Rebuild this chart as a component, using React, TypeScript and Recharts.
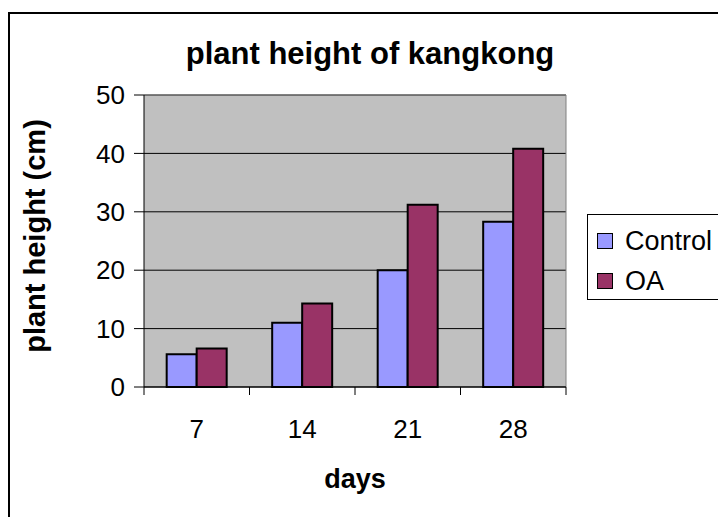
import React from 'react';
import {
  BarChart,
  Bar,
  XAxis,
  YAxis,
  CartesianGrid,
  Legend,
} from 'recharts';

const days = ['7', '14', '21', '28'];
const control = [5.6, 11.0, 20.0, 28.3];
const oa = [6.6, 14.3, 31.2, 40.8];
const yTicks = [0, 10, 20, 30, 40, 50];

const seriesNames = ['Control', 'OA'];
const seriesColors = ['#9999FF', '#993366'];

const FONT = '"Liberation Sans", Arial, sans-serif';
const PLOT_W = 422;

const data = days.map((d, i) => ({ day: d, control: control[i], oa: oa[i] }));

const DayTick = (props: any) => {
  const { x, y, payload, index } = props;
  const half = PLOT_W / days.length / 2;
  return (
    <g>
      <line x1={x - half} y1={y - 8} x2={x - half} y2={y} stroke="#000" />
      {index === days.length - 1 && (
        <line x1={x + half} y1={y - 8} x2={x + half} y2={y} stroke="#000" />
      )}
      <text
        x={x}
        y={y}
        dy={43}
        textAnchor="middle"
        fontSize={26}
        fontFamily={FONT}
        fill="#000"
      >
        {payload.value}
      </text>
    </g>
  );
};

const renderLegend = () => (
  <div
    style={{
      boxSizing: 'border-box',
      width: 131,
      height: 86,
      background: '#fff',
      borderTop: '1px solid #000',
      borderLeft: '1px solid #000',
      borderBottom: '1px solid #000',
      paddingTop: 6,
      paddingLeft: 9,
      fontFamily: FONT,
      fontSize: 27,
      color: '#000',
    }}
  >
    {seriesNames.map((name, i) => (
      <div
        key={name}
        style={{ display: 'flex', alignItems: 'center', height: 40, lineHeight: '40px' }}
      >
        <span
          style={{
            display: 'inline-block',
            boxSizing: 'border-box',
            width: 16,
            height: 16,
            background: seriesColors[i],
            border: '1px solid #000',
            marginRight: 12,
          }}
        />
        <span>{name}</span>
      </div>
    ))}
  </div>
);

const App: React.FC = () => {
  return (
    <div style={{ position: 'absolute', left: 0, top: 0, width: 718, height: 517, overflow: 'hidden', background: '#fff' }}>
      <div
        style={{
          position: 'absolute',
          left: 8,
          top: 12,
          width: 710,
          height: 505,
          borderLeft: '2px solid #000',
          borderTop: '2px solid #000',
          boxSizing: 'border-box',
        }}
      />
      <div
        style={{
          position: 'absolute',
          left: 170,
          top: 38,
          width: 400,
          textAlign: 'center',
          fontFamily: FONT,
          fontWeight: 'bold',
          fontSize: 31,
          lineHeight: 1,
          color: '#000',
        }}
      >
        plant height of kangkong
      </div>
      <div style={{ position: 'absolute', left: 0, top: 0 }}>
        <BarChart
          width={718}
          height={517}
          data={data}
          margin={{ top: 95, right: 152, bottom: 100, left: 84 }}
          barCategoryGap="21.5%"
          barGap={0}
        >
          <CartesianGrid
            fill="#C0C0C0"
            stroke="#000"
            vertical={false}
          />
          <CartesianGrid
            stroke="#808080"
            horizontalCoordinatesGenerator={({ offset }: any) => [offset.top]}
            verticalCoordinatesGenerator={({ offset }: any) => [offset.left + offset.width]}
          />
          <XAxis
            dataKey="day"
            height={30}
            interval={0}
            tickSize={8}
            tickMargin={0}
            tickLine={false}
            axisLine={{ stroke: '#000' }}
            tick={<DayTick />}
            label={{
              content: () => (
                <text
                  x={355}
                  y={488}
                  textAnchor="middle"
                  fontSize={27}
                  fontWeight="bold"
                  fontFamily={FONT}
                  fill="#000"
                >
                  days
                </text>
              ),
            }}
          />
          <YAxis
            width={60}
            domain={[0, 50]}
            ticks={yTicks}
            interval={0}
            tickSize={10}
            tickMargin={9}
            tickLine={{ stroke: '#000' }}
            axisLine={{ stroke: '#000' }}
            tick={{ fontSize: 26, fontFamily: FONT, fill: '#000' }}
            label={{
              content: () => (
                <text
                  x={35}
                  y={236}
                  dy={10}
                  transform="rotate(-90 35 236)"
                  textAnchor="middle"
                  fontSize={29}
                  fontWeight="bold"
                  fontFamily={FONT}
                  fill="#000"
                >
                  plant height (cm)
                </text>
              ),
            }}
          />
          <Legend
            layout="horizontal"
            align="center"
            verticalAlign="middle"
            wrapperStyle={{ left: 587, top: 214, width: 131, height: 86 }}
            content={renderLegend}
          />
          <Bar
            dataKey="control"
            name={seriesNames[0]}
            fill={seriesColors[0]}
            stroke="#000"
            strokeWidth={2}
            isAnimationActive={false}
          />
          <Bar
            dataKey="oa"
            name={seriesNames[1]}
            fill={seriesColors[1]}
            stroke="#000"
            strokeWidth={2}
            isAnimationActive={false}
          />
        </BarChart>
      </div>
    </div>
  );
};

export default App;
